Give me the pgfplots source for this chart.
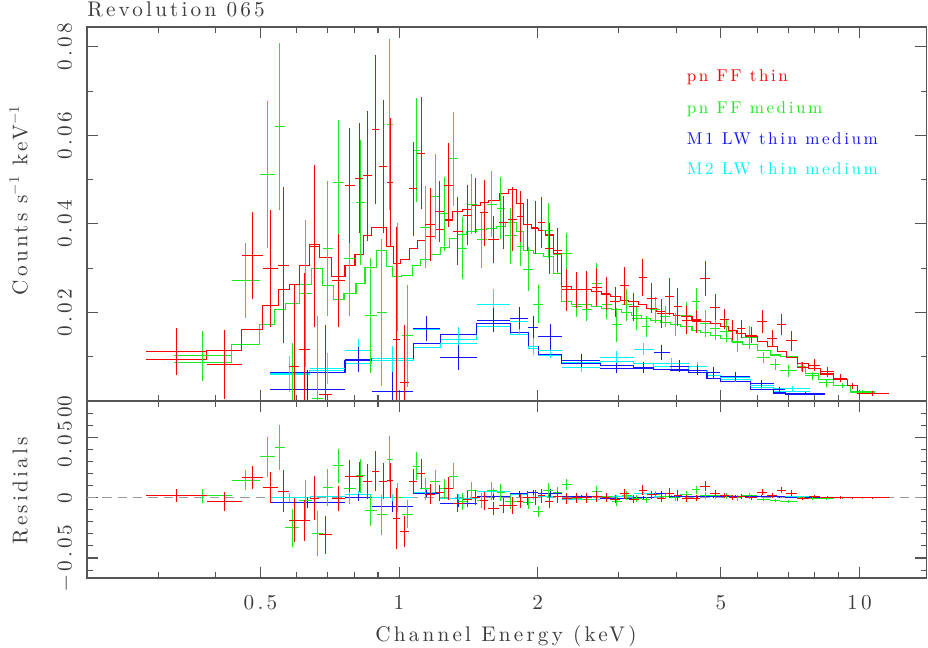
\documentclass[border=0pt]{standalone}
\usepackage{fontspec}
\setmainfont{lmroman10-regular.otf}[LetterSpace=15]
\usepackage{pgfplots}
\usepackage{pgfplotstable}
\pgfplotsset{compat=1.18}
\definecolor{cred}{RGB}{255,0,0}
\definecolor{cgreen}{RGB}{30,235,30}
\definecolor{cblue}{RGB}{20,20,255}
\definecolor{ccyan}{RGB}{0,245,245}
\definecolor{cframe}{RGB}{85,85,85}
\definecolor{txt}{RGB}{60,60,60}
\newcommand\lab{\fontsize{15.9pt}{19pt}\selectfont}
\newcommand\leg{\fontsize{12.8pt}{15pt}\selectfont}

% columns: bin low edge, bin high edge (keV), data, 1-sigma error, model
\pgfplotstableread{
lo hi y dy m
0.2818 0.3819 0.01114 0.00535 0.0093
0.3819 0.4549 0.00814 0.0078 0.0114
0.4549 0.5055 0.0329 0.0098 0.0162
0.5055 0.5466 0.0300 0.0132 0.0215
0.5466 0.5775 0.0307 0.0176 0.0252
0.5775 0.6071 0.0079 0.0185 0.0264
0.6071 0.6405 0.0117 0.0173 0.0307
0.6405 0.6710 0.0350 0.0183 0.0353
0.6710 0.7140 0.0015 0.0157 0.0324
0.7140 0.7631 0.0273 0.0105 0.0281
0.7631 0.8023 0.0487 0.0130 0.0307
0.8023 0.8364 0.0503 0.0124 0.0330
0.8364 0.8723 0.0509 0.0147 0.0373
0.8723 0.9062 0.0614 0.0168 0.0393
0.9062 0.9403 0.0529 0.0150 0.0393
0.9403 0.9719 0.0494 0.0145 0.0349
0.9719 1.0050 0.0138 0.0256 0.0310
1.0050 1.0529 0.0041 0.0130 0.0319
1.0529 1.0959 0.0479 0.0107 0.0344
1.0959 1.1390 0.0560 0.0127 0.0362
1.1390 1.1975 0.0399 0.0083 0.0371
1.1975 1.2545 0.0428 0.0068 0.0388
1.2545 1.3084 0.0488 0.0094 0.0409
1.3084 1.3755 0.0384 0.0077 0.0428
1.3755 1.4391 0.0420 0.0067 0.0433
1.4391 1.5000 0.0441 0.0062 0.0441
1.5000 1.5636 0.0425 0.0075 0.0449
1.5636 1.6521 0.0364 0.0053 0.0454
1.6521 1.7283 0.0403 0.0060 0.0468
1.7283 1.8025 0.0411 0.0072 0.0478
1.8025 1.8631 0.0417 0.0057 0.0447
1.8631 1.9429 0.0398 0.0058 0.0398
1.9429 2.0083 0.0391 0.0060 0.0389
2.0083 2.0767 0.0403 0.0058 0.0386
2.0767 2.1649 0.0345 0.0057 0.0375
2.1649 2.2579 0.0341 0.0049 0.0334
2.2579 2.3738 0.0251 0.0047 0.0258
2.3738 2.4955 0.0251 0.0041 0.0251
2.4955 2.6237 0.0251 0.0043 0.0251
2.6237 2.7583 0.0257 0.0043 0.0247
2.7583 2.8756 0.0243 0.0038 0.0240
2.8756 3.0231 0.0224 0.0034 0.0236
3.0231 3.1512 0.0260 0.0043 0.0228
3.1512 3.3131 0.0213 0.0032 0.0224
3.3131 3.4551 0.0279 0.0041 0.0217
3.4551 3.6325 0.0232 0.0034 0.0209
3.6325 3.7869 0.0198 0.0032 0.0202
3.7869 3.9472 0.0236 0.0041 0.0198
3.9472 4.1169 0.0213 0.0043 0.0194
4.1169 4.3283 0.0183 0.0031 0.0191
4.3283 4.5122 0.0179 0.0026 0.0183
4.5122 4.7435 0.0277 0.0040 0.0180
4.7435 4.9868 0.0212 0.0030 0.0176
4.9868 5.1984 0.0185 0.0023 0.0168
5.1984 5.4219 0.0160 0.0023 0.0160
5.4219 5.6515 0.0163 0.0021 0.0153
5.6515 5.9928 0.0149 0.0019 0.0145
5.9928 6.3000 0.0179 0.0026 0.0134
6.3000 6.6238 0.0142 0.0019 0.0124
6.6238 6.9394 0.0173 0.0024 0.0111
6.9394 7.3210 0.0136 0.0023 0.0099
7.3210 7.7583 0.0076 0.0011 0.0085
7.7583 8.2270 0.0081 0.0013 0.0074
8.2270 8.7925 0.0066 0.0011 0.0061
8.7925 9.4033 0.0051 0.0009 0.0049
9.4033 9.8860 0.0034 0.0006 0.0036
9.8860 11.581 0.0017 0.0006 0.0017
11.581 nan nan nan 0.0017
}\redtab

\pgfplotstableread{
lo hi y dy m
0.3242 0.4328 0.0102 0.0056 0.0087
0.4328 0.4987 0.0273 0.0085 0.0127
0.4987 0.5368 0.0511 0.0166 0.0172
0.5368 0.5660 0.0620 0.0188 0.0206
0.5660 0.6071 -0.0030 0.0160 0.0221
0.6071 0.6469 0.0243 0.0166 0.0264
0.6469 0.6826 0.0005 0.0187 0.0300
0.6826 0.7198 0.0344 0.0152 0.0262
0.7198 0.7594 0.0493 0.0142 0.0230
0.7594 0.8063 0.0322 0.0131 0.0243
0.8063 0.8435 0.0448 0.0141 0.0266
0.8435 0.8945 0.0194 0.0130 0.0302
0.8945 0.9403 0.0200 0.0166 0.0340
0.9403 0.9689 0.0624 0.0193 0.0304
0.9689 1.0136 0.0281 0.0122 0.0281
1.0136 1.0710 0.0147 0.0115 0.0283
1.0710 1.1108 0.0567 0.0117 0.0306
1.1108 1.1679 0.0393 0.0092 0.0319
1.1679 1.2279 0.0463 0.0096 0.0330
1.2279 1.2864 0.0423 0.0083 0.0347
1.2864 1.3415 0.0547 0.0106 0.0368
1.3415 1.4033 0.0345 0.0070 0.0377
1.4033 1.4755 0.0445 0.0067 0.0383
1.4755 1.5511 0.0364 0.0063 0.0388
1.5511 1.6307 0.0445 0.0075 0.0389
1.6307 1.7000 0.0435 0.0070 0.0394
1.7000 1.8025 0.0373 0.0064 0.0403
1.8025 1.8631 0.0349 0.0045 0.0383
1.8631 1.9586 0.0298 0.0049 0.0341
1.9586 2.0594 0.0219 0.0043 0.0334
2.0594 2.1649 0.0386 0.0062 0.0326
2.1649 2.2579 0.0332 0.0043 0.0289
2.2579 2.3738 0.0334 0.0045 0.0224
2.3738 2.4955 0.0213 0.0024 0.0217
2.4955 2.6237 0.0207 0.0026 0.0219
2.6237 2.7583 0.0266 0.0045 0.0213
2.7583 2.9000 0.0217 0.0032 0.0209
2.9000 3.0487 0.0172 0.0038 0.0206
3.0487 3.2053 0.0217 0.0036 0.0200
3.2053 3.3698 0.0187 0.0026 0.0193
3.3698 3.5127 0.0168 0.0023 0.0187
3.5127 3.6932 0.0206 0.0030 0.0181
3.6932 3.8830 0.0191 0.0023 0.0177
3.8830 4.0818 0.0172 0.0026 0.0172
4.0818 4.3283 0.0194 0.0030 0.0168
4.3283 4.5122 0.0224 0.0032 0.0160
4.5122 4.7435 0.0175 0.0030 0.0154
4.7435 4.9868 0.0164 0.0026 0.0147
4.9868 5.2876 0.0158 0.0024 0.0142
5.2876 5.5593 0.0132 0.0022 0.0134
5.5593 5.9928 0.0144 0.0026 0.0128
5.9928 6.4050 0.0098 0.0013 0.0115
6.4050 6.7330 0.0083 0.0013 0.0104
6.7330 7.3210 0.0068 0.0013 0.0100
7.3210 7.6310 0.0078 0.0011 0.0078
7.6310 8.1570 0.0057 0.0009 0.0063
8.1570 8.7925 0.0041 0.0009 0.0049
8.7925 9.5590 0.0035 0.0006 0.0036
9.5590 10.834 0.0020 0.0005 0.0021
10.834 nan nan nan 0.0021
}\greentab

\pgfplotstableread{
lo hi y dy m
0.5243 0.7631 0.0026 0.0044 0.0065
0.7631 0.8723 0.0093 0.0028 0.0091
0.8723 1.0742 0.0021 0.0045 0.0096
1.0742 1.2279 0.0163 0.0028 0.0130
1.2279 1.4755 0.0099 0.0028 0.0150
1.4755 1.7431 0.0183 0.0027 0.0176
1.7431 1.9103 0.0187 0.0025 0.0154
1.9103 2.0083 0.0167 0.0024 0.0123
2.0083 2.2579 0.0145 0.0030 0.0106
2.2579 2.7352 0.0091 0.0015 0.0085
2.7352 3.2312 0.0074 0.0011 0.0081
3.2312 3.5712 0.0076 0.0012 0.0074
3.5712 3.8830 0.0109 0.0017 0.0072
3.8830 4.2549 0.0079 0.0013 0.0070
4.2549 4.6659 0.0070 0.0012 0.0064
4.6659 4.9868 0.0064 0.0012 0.0051
4.9868 5.7948 0.0055 0.0010 0.0045
5.7948 6.5122 0.0040 0.0008 0.0026
6.5122 6.9040 0.0025 0.0006 0.0018
6.9040 8.4350 0.0017 0.0004 0.0015
8.4350 nan nan nan 0.0015
}\bluetab

\pgfplotstableread{
lo hi y dy m
0.5243 0.6405 0.0061 0.0040 0.0062
0.6405 0.7631 0.0074 0.0035 0.0068
0.7631 0.8723 0.0115 0.0025 0.0085
0.8723 1.0742 0.0095 0.0030 0.0092
1.0742 1.2279 0.0162 0.0027 0.0120
1.2279 1.4755 0.0130 0.0038 0.0140
1.4755 1.7431 0.0219 0.0033 0.0168
1.7431 1.9103 0.0179 0.0027 0.0150
1.9103 2.0083 0.0123 0.0020 0.0118
2.0083 2.2579 0.0115 0.0017 0.0104
2.2579 2.7352 0.0076 0.0011 0.0088
2.7352 3.2312 0.0099 0.0013 0.0090
3.2312 3.5712 0.0117 0.0013 0.0085
3.5712 4.2549 0.0085 0.0012 0.0078
4.2549 4.6659 0.0077 0.0011 0.0068
4.6659 4.9868 0.0064 0.0012 0.0058
4.9868 5.7948 0.0054 0.0010 0.0048
5.7948 6.5122 0.0036 0.0008 0.0030
6.5122 7.8252 0.0028 0.0006 0.0022
7.8252 nan nan nan 0.0022
}\cyantab

\pgfplotsset{
  error bars/draw error bar/.code 2 args={\draw #1 -- #2;},
}
\pgfplotsset{
  errs/.style={color=#1, draw=none, mark=none,
    error bars/x dir=both, error bars/x explicit,
    error bars/y dir=both, error bars/y explicit,
    error bars/error mark=none,
    error bars/error bar style={color=#1, draw=#1, line width=0.75pt}},
  model/.style={color=#1, const plot, mark=none, line width=0.8pt},
}

\begin{document}
\begin{tikzpicture}
\path[use as bounding box] (0,0) rectangle (696pt,485.25pt);

\begin{axis}[xmode=log, scale only axis, width=629.775pt, xmin=0.21, xmax=14,
  at={(65.25pt,184.5pt)}, anchor=south west,
  height=280.5pt, ymin=0, ymax=0.0845,
  scaled y ticks=false,
  axis line style={draw=cframe, line width=0.9pt},
  every tick/.append style={draw=cframe, line width=0.8pt},
  major tick length=8.5pt, minor tick length=4.5pt,
  xtick={0.5,1,2,5,10}, xticklabels={},
  minor xtick={0.3,0.4,0.6,0.7,0.8,0.9,3,4,6,7,8,9},
  tick label style={font=\lab, text=txt},
  yticklabel style={rotate=90, anchor=south, inner sep=0pt},
  yticklabel shift=11pt,
  ytick={0,0.02,0.04,0.06,0.08}, yticklabels={0,0.02,0.04,0.06,0.08},
  minor ytick={0.01,0.03,0.05,0.07}]
\addplot[model=ccyan] table[x=lo, y=m]{\cyantab};
\addplot[model=cblue] table[x=lo, y=m]{\bluetab};
\addplot[model=cgreen] table[x=lo, y=m]{\greentab};
\addplot[model=cred] table[x=lo, y=m]{\redtab};
\addplot[errs=ccyan] table[x expr={sqrt(\thisrow{lo}*\thisrow{hi})}, x error minus expr={sqrt(\thisrow{lo}*\thisrow{hi})-\thisrow{lo}}, x error plus expr={\thisrow{hi}-sqrt(\thisrow{lo}*\thisrow{hi})}, y error=dy, y=y]{\cyantab};
\addplot[errs=cblue] table[x expr={sqrt(\thisrow{lo}*\thisrow{hi})}, x error minus expr={sqrt(\thisrow{lo}*\thisrow{hi})-\thisrow{lo}}, x error plus expr={\thisrow{hi}-sqrt(\thisrow{lo}*\thisrow{hi})}, y error=dy, y=y]{\bluetab};
\addplot[errs=cgreen] table[x expr={sqrt(\thisrow{lo}*\thisrow{hi})}, x error minus expr={sqrt(\thisrow{lo}*\thisrow{hi})-\thisrow{lo}}, x error plus expr={\thisrow{hi}-sqrt(\thisrow{lo}*\thisrow{hi})}, y error=dy, y=y]{\greentab};
\addplot[errs=cred] table[x expr={sqrt(\thisrow{lo}*\thisrow{hi})}, x error minus expr={sqrt(\thisrow{lo}*\thisrow{hi})-\thisrow{lo}}, x error plus expr={\thisrow{hi}-sqrt(\thisrow{lo}*\thisrow{hi})}, y error=dy, y=y]{\redtab};
\end{axis}

\begin{axis}[xmode=log, scale only axis, width=629.775pt, xmin=0.21, xmax=14,
  at={(65.25pt,51.75pt)}, anchor=south west,
  height=132.75pt, ymin=-0.0666, ymax=0.0802,
  scaled y ticks=false,
  axis line style={draw=cframe, line width=0.9pt},
  every tick/.append style={draw=cframe, line width=0.8pt},
  major tick length=8.5pt, minor tick length=4.5pt,
  xtick={0.5,1,2,5,10}, xticklabels={0.5,1,2,5,10},
  minor xtick={0.3,0.4,0.6,0.7,0.8,0.9,3,4,6,7,8,9},
  tick label style={font=\lab, text=txt},
  xticklabel style={anchor=north, inner sep=0pt}, xticklabel shift=13pt,
  yticklabel style={rotate=90, anchor=south, inner sep=0pt},
  yticklabel shift=11pt,
  ytick={-0.05,0,0.05}, yticklabels={−0.05,0,0.050},
  minor ytick={-0.06,-0.04,-0.03,-0.02,-0.01,0.01,0.02,0.03,0.04,0.06,0.07,0.08}]
\addplot[color=black!40, line width=1.1pt, dash pattern=on 7pt off 4.5pt] coordinates {(0.21,0) (14,0)};
\addplot[errs=ccyan] table[x expr={sqrt(\thisrow{lo}*\thisrow{hi})}, x error minus expr={sqrt(\thisrow{lo}*\thisrow{hi})-\thisrow{lo}}, x error plus expr={\thisrow{hi}-sqrt(\thisrow{lo}*\thisrow{hi})}, y error=dy, y expr={\thisrow{y}-\thisrow{m}}]{\cyantab};
\addplot[errs=cblue] table[x expr={sqrt(\thisrow{lo}*\thisrow{hi})}, x error minus expr={sqrt(\thisrow{lo}*\thisrow{hi})-\thisrow{lo}}, x error plus expr={\thisrow{hi}-sqrt(\thisrow{lo}*\thisrow{hi})}, y error=dy, y expr={\thisrow{y}-\thisrow{m}}]{\bluetab};
\addplot[errs=cgreen] table[x expr={sqrt(\thisrow{lo}*\thisrow{hi})}, x error minus expr={sqrt(\thisrow{lo}*\thisrow{hi})-\thisrow{lo}}, x error plus expr={\thisrow{hi}-sqrt(\thisrow{lo}*\thisrow{hi})}, y error=dy, y expr={\thisrow{y}-\thisrow{m}}]{\greentab};
\addplot[errs=cred] table[x expr={sqrt(\thisrow{lo}*\thisrow{hi})}, x error minus expr={sqrt(\thisrow{lo}*\thisrow{hi})-\thisrow{lo}}, x error plus expr={\thisrow{hi}-sqrt(\thisrow{lo}*\thisrow{hi})}, y error=dy, y expr={\thisrow{y}-\thisrow{m}}]{\redtab};
\end{axis}

\node[anchor=base west, font=\lab, text=txt, inner sep=0pt] at (65.25pt,472.5pt) {Revolution 065};
\node[anchor=base, font=\lab, text=txt, inner sep=0pt] at (379.5pt,3.9pt) {Channel Energy (keV)};
\node[anchor=base, rotate=90, font=\lab, text=txt, inner sep=0pt] at (20.5pt,335pt) {Counts s$^{-1}$ keV$^{-1}$};
\node[anchor=base, rotate=90, font=\lab, text=txt, inner sep=0pt] at (20.5pt,117pt) {Residials};

\node[anchor=base west, font=\leg, text=cred, inner sep=0pt] at (515pt,424pt) {pn FF thin};
\node[anchor=base west, font=\leg, text=cgreen, inner sep=0pt] at (515pt,400.3pt) {pn FF medium};
\node[anchor=base west, font=\leg, text=cblue, inner sep=0pt] at (515pt,377pt) {M1 LW thin medium};
\node[anchor=base west, font=\leg, text=ccyan, inner sep=0pt] at (515pt,354pt) {M2 LW thin medium};
\end{tikzpicture}
\end{document}
